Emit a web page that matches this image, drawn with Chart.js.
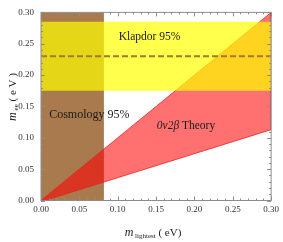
<!DOCTYPE html>
<html>
<head>
<meta charset="utf-8">
<script src="https://cdn.jsdelivr.net/npm/chart.js@4.4.0/dist/chart.umd.min.js"></script>
<style>
  body { margin: 0; background: #fff; }
  #wrap { width: 283px; height: 242px; }
</style>
</head>
<body>
<div id="wrap"><canvas id="chart"></canvas></div>
<script>
// values (eV)
const tickValues = [0, 0.05, 0.10, 0.15, 0.20, 0.25, 0.30];
const tickLabels = ["0.00", "0.05", "0.10", "0.15", "0.20", "0.25", "0.30"];

// cosmology 95% bound on m_lightest
const cosmoX = [0, 0, 0.082, 0.082, 0];
const cosmoY = [0, 0.30, 0.30, 0, 0];

// Klapdor 95% band and best value
const klapdorX = [0, 0.30, 0.30, 0, 0];
const klapdorY = [0.175, 0.175, 0.285, 0.285, 0.175];
const klapdorBestX = [0, 0.30];
const klapdorBestY = [0.23, 0.23];

// 0v2b theory region (upper edge m_ee = m_lightest, lower edge)
const theoryX = [0, 0.30, 0.30, 0.005, 0];
const theoryY = [0, 0.30, 0.113, 0, 0];

const toPoints = (xs, ys) => xs.map((x, i) => ({x: x, y: ys[i]}));

const serif = "'Liberation Serif', 'DejaVu Serif', serif";

const framePlugin = {
  id: "frame",
  afterDatasetsDraw(chart) {
    const ctx = chart.ctx;
    const xs = chart.scales.x, ys = chart.scales.y;
    ctx.save();
    ctx.fillStyle = "#1a1a1a";
    ctx.textBaseline = "middle";
    ctx.textAlign = "center";
    ctx.font = "11.5px " + serif;
    ctx.fillText("Klapdor 95%", xs.getPixelForValue(0.1415), ys.getPixelForValue(0.26));
    ctx.font = "12px " + serif;
    ctx.fillText("Cosmology 95%", xs.getPixelForValue(0.063), ys.getPixelForValue(0.1365));

    // 0v2b Theory, italic part first
    ctx.textAlign = "left";
    const a = "0ν2β", b = " Theory";
    ctx.font = "italic 11.5px " + serif;
    const wa = ctx.measureText(a).width;
    ctx.font = "11.5px " + serif;
    const wb = ctx.measureText(b).width;
    let tx = xs.getPixelForValue(0.189) - (wa + wb) / 2;
    const ty = ys.getPixelForValue(0.1195);
    ctx.font = "italic 11.5px " + serif;
    ctx.fillText(a, tx, ty);
    ctx.font = "11.5px " + serif;
    ctx.fillText(b, tx + wa, ty);
    ctx.restore();
  },
  afterDraw(chart) {
    const ctx = chart.ctx;
    const area = chart.chartArea;
    const xs = chart.scales.x, ys = chart.scales.y;
    ctx.save();
    ctx.strokeStyle = "#8c8c8c";
    ctx.lineWidth = 1;
    ctx.strokeRect(area.left, area.top, area.right - area.left, area.bottom - area.top);

    // inward ticks on all four sides, minor every 0.01
    ctx.beginPath();
    for (let i = 0; i <= 30; i++) {
      const v = i / 100;
      const len = i % 5 === 0 ? 4 : 2;
      const px = Math.round(xs.getPixelForValue(v)) + 0.5;
      const py = Math.round(ys.getPixelForValue(v)) + 0.5;
      ctx.moveTo(px, area.bottom); ctx.lineTo(px, area.bottom - len);
      ctx.moveTo(px, area.top); ctx.lineTo(px, area.top + len);
      ctx.moveTo(area.left, py); ctx.lineTo(area.left + len, py);
      ctx.moveTo(area.right, py); ctx.lineTo(area.right - len, py);
    }
    ctx.stroke();

    // axis titles with subscripts
    ctx.fillStyle = "#1a1a1a";
    ctx.textBaseline = "alphabetic";
    ctx.textAlign = "left";

    const parts = (list) => list.map(p => {
      ctx.font = p[1];
      return {t: p[0], f: p[1], dy: p[2], w: ctx.measureText(p[0]).width};
    });

    const xt = parts([
      ["m", "italic 12px " + serif, 0],
      [" lightest", "7px " + serif, 2],
      [" ( eV)", "11px " + serif, 0]
    ]);
    let total = xt.reduce((s, p) => s + p.w, 0);
    let cx = 153 - total / 2;
    xt.forEach(p => { ctx.font = p.f; ctx.fillText(p.t, cx, 236 + p.dy); cx += p.w; });

    const yt = parts([
      ["m", "italic 12px " + serif, 0],
      [" ee", "7px " + serif, 2],
      [" ( e V )", "11px " + serif, 0]
    ]);
    total = yt.reduce((s, p) => s + p.w, 0);
    ctx.translate(16, 97);
    ctx.rotate(-Math.PI / 2);
    cx = -total / 2;
    yt.forEach(p => { ctx.font = p.f; ctx.fillText(p.t, cx, p.dy); cx += p.w; });
    ctx.restore();
  }
};

const axisOpts = (fit) => ({
  type: "linear",
  min: 0,
  max: 0.30,
  afterBuildTicks: (s) => { s.ticks = tickValues.map(v => ({value: v})); },
  afterFit: fit,
  grid: {display: false, drawTicks: false},
  border: {display: false},
  ticks: {
    color: "#333",
    font: {family: serif, size: 9},
    callback: (v) => tickLabels[tickValues.findIndex(t => Math.abs(t - v) < 1e-9)]
  }
});

const xAxis = axisOpts((s) => { s.height = 41.5; });
xAxis.ticks.padding = 4;
const yAxis = axisOpts((s) => { s.width = 41; });
yAxis.ticks.padding = 7;

new Chart(document.getElementById("chart"), {
  type: "scatter",
  data: {
    datasets: [
      {
        label: "Cosmology 95%",
        data: toPoints(cosmoX, cosmoY),
        showLine: true,
        fill: "shape",
        backgroundColor: "#a87a4e",
        borderWidth: 0,
        pointRadius: 0,
        order: 4
      },
      {
        label: "0v2b Theory",
        data: toPoints(theoryX, theoryY),
        showLine: true,
        fill: "shape",
        backgroundColor: "rgba(255, 0, 0, 0.56)",
        borderColor: "#e62222",
        borderWidth: 0.8,
        pointRadius: 0,
        order: 3
      },
      {
        label: "Klapdor 95%",
        data: toPoints(klapdorX, klapdorY),
        showLine: true,
        fill: "shape",
        backgroundColor: "rgba(255, 255, 0, 0.7)",
        borderWidth: 0,
        pointRadius: 0,
        order: 2
      },
      {
        label: "Klapdor best",
        data: toPoints(klapdorBestX, klapdorBestY),
        showLine: true,
        fill: false,
        borderColor: "#a27a2a",
        borderWidth: 2,
        borderDash: [6, 3],
        pointRadius: 0,
        order: 1
      }
    ]
  },
  options: {
    responsive: true,
    maintainAspectRatio: false,
    animation: false,
    devicePixelRatio: 1,
    layout: {padding: {top: 6, right: 9, left: 0, bottom: 0}},
    plugins: {
      legend: {display: false},
      tooltip: {enabled: false}
    },
    scales: {x: xAxis, y: yAxis}
  },
  plugins: [framePlugin]
});
</script>
</body>
</html>
